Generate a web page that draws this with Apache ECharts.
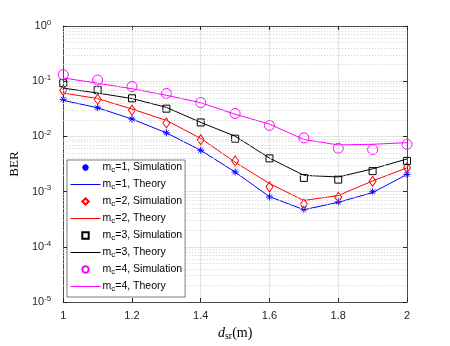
<!DOCTYPE html>
<html>
<head>
<meta charset="utf-8">
<script src="https://cdn.jsdelivr.net/npm/echarts@6/dist/echarts.min.js"></script>
<style>
  html, body { margin: 0; padding: 0; background: #fff; }
  #main { width: 450px; height: 346px; }
</style>
</head>
<body>
<div id="main"></div>
<script>
// d_sr values (m)
var dsr = [1, 1.1, 1.2, 1.3, 1.4, 1.5, 1.6, 1.7, 1.8, 1.9, 2];

// BER
var sim1 = [0.047, 0.033, 0.0206, 0.0116, 0.0056, 0.00226, 0.00080, 0.00048, 0.00065, 0.00099, 0.00205];
var th1  = [0.045, 0.033, 0.0206, 0.0116, 0.0056, 0.00226, 0.00081, 0.00047, 0.00064, 0.00096, 0.00205];
var sim2 = [0.068, 0.047, 0.030, 0.0175, 0.0087, 0.0036, 0.00122, 0.00059, 0.00079, 0.00154, 0.0027];
var th2  = [0.061, 0.0485, 0.0313, 0.0195, 0.0092, 0.0034, 0.0014, 0.00069, 0.00085, 0.00156, 0.0027];
var sim3 = [0.092, 0.069, 0.049, 0.0318, 0.0179, 0.0091, 0.0040, 0.00177, 0.00165, 0.00235, 0.0036];
var th3  = [0.075, 0.061, 0.0485, 0.0336, 0.0179, 0.0101, 0.00405, 0.00197, 0.00184, 0.00258, 0.0039];
var sim4 = [0.131, 0.105, 0.080, 0.060, 0.041, 0.026, 0.0158, 0.0094, 0.0061, 0.0058, 0.0072];
var th4  = [0.1145, 0.092, 0.073, 0.0556, 0.0407, 0.0252, 0.0167, 0.0088, 0.0070, 0.0072, 0.0077];

var names = ['m_c=1, Simulation', 'm_c=1, Theory', 'm_c=2, Simulation', 'm_c=2, Theory',
             'm_c=3, Simulation', 'm_c=3, Theory', 'm_c=4, Simulation', 'm_c=4, Theory'];
var colors = ['#0000ff', '#ff0000', '#000000', '#ff00ff'];

// decades of the log axis and the 2..9 multiples used for the dotted minor grid
var decades = [1e-5, 1e-4, 1e-3, 1e-2, 1e-1];
var minorMult = [2, 3, 4, 5, 6, 7, 8, 9];

function pairs(ys) {
  return ys.map(function (y, i) { return [dsr[i], y]; });
}

var minorLines = [];
decades.forEach(function (d) {
  minorMult.forEach(function (m) {
    var v = d * m;
    minorLines.push([{ coord: [dsr[0], v] }, { coord: [dsr[dsr.length - 1], v] }]);
  });
});

var starPath = 'path://M5 0 L5 10 M0 5 L10 5 M1.6 1.6 L8.4 8.4 M8.4 1.6 L1.6 8.4';

function simSeries(name, ys, color, symbol, size) {
  return {
    name: name,
    type: 'line',
    data: pairs(ys),
    symbol: symbol,
    symbolSize: size,
    showSymbol: true,
    lineStyle: { width: 0, opacity: 0 },
    itemStyle: { color: 'transparent', borderColor: color, borderWidth: 1 },
    emphasis: { disabled: true },
    z: 3
  };
}

function theorySeries(name, ys, color) {
  return {
    name: name,
    type: 'line',
    data: pairs(ys),
    symbol: 'none',
    showSymbol: false,
    color: color,
    lineStyle: { width: 1, color: color, type: 'solid' },
    emphasis: { disabled: true },
    z: 2
  };
}

var axisCol = '#262626';
var chart = echarts.init(document.getElementById('main'));

var legendData = names.map(function (n, i) {
  if (i % 2) {
    return {
      name: n,
      itemStyle: { opacity: 0 },
      lineStyle: { type: 'solid', width: 1, color: colors[(i - 1) / 2], opacity: 1 }
    };
  }
  return { name: n };
});

var option = {
  animation: false,
  backgroundColor: '#fff',
  grid: { left: 59, right: 43, top: 26, bottom: 39 },
  legend: {
    orient: 'vertical',
    left: 67,
    top: 160,
    z: 10,
    padding: [2, 3, 4, 3],
    itemWidth: 30,
    itemHeight: 8,
    itemGap: 5,
    backgroundColor: '#fff',
    borderColor: '#262626',
    borderWidth: 0.6,
    data: legendData,
    formatter: function (n) { return n.replace('m_c', 'm{sub|c}'); },
    textStyle: {
      fontFamily: 'Liberation Sans, Arial',
      fontSize: 10.5,
      color: '#000',
      padding: [0, 0, 0, -3],
      rich: {
        sub: { fontSize: 8, padding: [5, 0, 0, 0], fontFamily: 'Liberation Sans, Arial' }
      }
    }
  },
  xAxis: [{
    type: 'value',
    min: 1, max: 2, interval: 0.2,
    name: '{i|d}{s|sr}{n|(m)}',
    nameLocation: 'middle',
    nameGap: 23,
    nameTextStyle: {
      rich: {
        i: { fontFamily: 'Liberation Serif', fontStyle: 'italic', fontSize: 14, color: '#000' },
        s: { fontFamily: 'Liberation Serif', fontSize: 10, padding: [6, 0, 0, 0], color: '#000' },
        n: { fontFamily: 'Liberation Serif', fontSize: 14, color: '#000' }
      }
    },
    axisLine: { onZero: false, lineStyle: { color: axisCol, width: 0.8 } },
    axisTick: { inside: true, length: 4, lineStyle: { color: axisCol } },
    axisLabel: {
      margin: 8,
      fontFamily: 'Liberation Sans, Arial', fontSize: 11, color: axisCol,
      formatter: function (v) { return String(+v.toFixed(1)); }
    },
    splitLine: { show: true, lineStyle: { color: '#e3e3e3', width: 1 } }
  }, {
    type: 'value',
    position: 'top',
    min: 1, max: 2, interval: 0.2,
    axisLine: { show: true, onZero: false, lineStyle: { color: axisCol, width: 0.8 } },
    axisTick: { show: true, inside: true, length: 4, lineStyle: { color: axisCol } },
    axisLabel: { show: false },
    splitLine: { show: false }
  }],
  yAxis: [{
    type: 'log',
    logBase: 10,
    min: 1e-5, max: 1,
    name: 'BER',
    nameLocation: 'middle',
    nameGap: 27,
    nameTextStyle: { fontFamily: 'Liberation Serif', fontSize: 13, color: '#000' },
    axisLine: { show: true, onZero: false, lineStyle: { color: axisCol, width: 0.8 } },
    axisTick: { inside: true, length: 4, lineStyle: { color: axisCol } },
    axisLabel: {
      margin: 12,
      color: axisCol,
      formatter: function (v) {
        var e = Math.round(Math.log10(v));
        return '{b|10}{e|' + e + '}';
      },
      rich: {
        b: { fontFamily: 'Liberation Sans, Arial', fontSize: 11, color: axisCol },
        e: { fontFamily: 'Liberation Sans, Arial', fontSize: 8, color: axisCol, padding: [0, 0, 7, 0] }
      }
    },
    splitLine: { show: true, lineStyle: { color: '#e3e3e3', width: 1 } }
  }, {
    type: 'log',
    logBase: 10,
    min: 1e-5, max: 1,
    position: 'right',
    axisLine: { show: true, onZero: false, lineStyle: { color: axisCol, width: 0.8 } },
    axisTick: { show: true, inside: true, length: 4, lineStyle: { color: axisCol } },
    axisLabel: { show: false },
    splitLine: { show: false }
  }],
  series: [
    {
      name: 'minor-grid',
      type: 'line',
      data: [],
      silent: true,
      z: 0,
      markLine: {
        silent: true,
        symbol: 'none',
        precision: 10,
        label: { show: false },
        animation: false,
        lineStyle: { color: '#cfcfcf', type: [1, 2], width: 1 },
        emphasis: { disabled: true },
        data: minorLines
      }
    },
    simSeries(names[0], sim1, colors[0], starPath, 7),
    theorySeries(names[1], th1, colors[0]),
    simSeries(names[2], sim2, colors[1], 'diamond', [7, 10]),
    theorySeries(names[3], th2, colors[1]),
    simSeries(names[4], sim3, colors[2], 'rect', 7),
    theorySeries(names[5], th3, colors[2]),
    simSeries(names[6], sim4, colors[3], 'circle', 10),
    theorySeries(names[7], th4, colors[3])
  ]
};

chart.setOption(option);
</script>
</body>
</html>
